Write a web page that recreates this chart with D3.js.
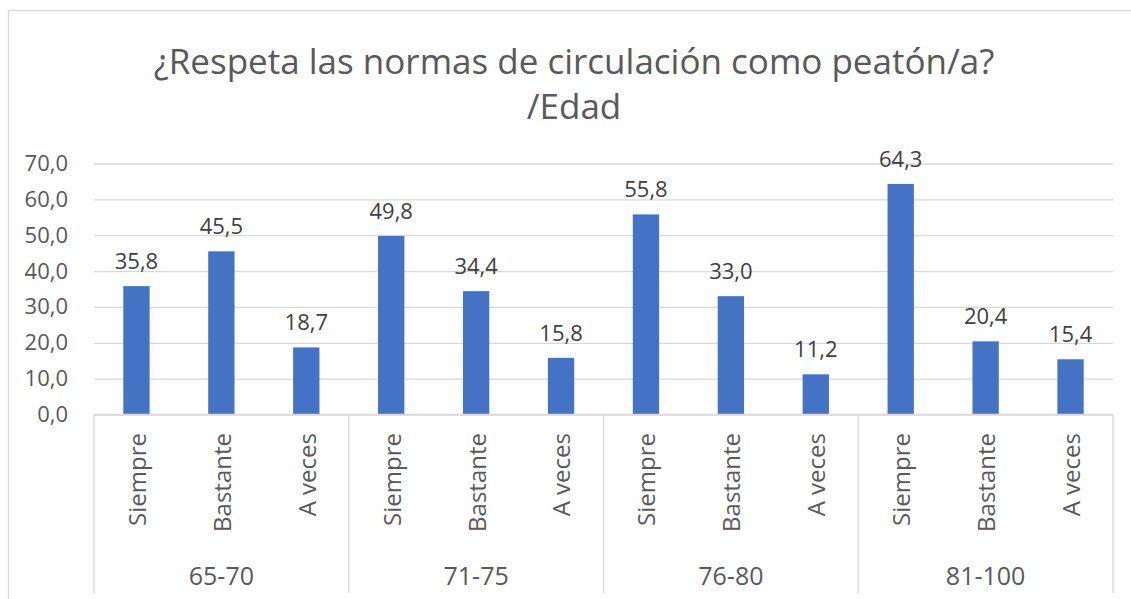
<!DOCTYPE html>
<html>
<head>
<meta charset="utf-8">
<script src="https://cdn.jsdelivr.net/npm/d3@7"></script>
<style>
  html, body { margin: 0; padding: 0; background: #fff; }
  svg { display: block; font-family: "Open Sans", "Noto Sans", sans-serif; }
</style>
</head>
<body>
<svg id="chart" width="1131" height="599"></svg>
<script>
// Age groups and the answer options shown inside each group
const ageGroups = ["65-70", "71-75", "76-80", "81-100"];
const answers = ["Siempre", "Bastante", "A veces"];

// Percentages per age group, in the order of `answers`
const values6570 = [35.8, 45.5, 18.7];
const values7175 = [49.8, 34.4, 15.8];
const values7680 = [55.8, 33.0, 11.2];
const values81100 = [64.3, 20.4, 15.4];

const yTicks = [0, 10, 20, 30, 40, 50, 60, 70];
const titleLines = ["¿Respeta las normas de circulación como peatón/a?", "/Edad"];

const seriesByGroup = [values6570, values7175, values7680, values81100];
const rows = [];
ageGroups.forEach((g, gi) => {
  answers.forEach((a, ai) => rows.push({ group: g, answer: a, value: seriesByGroup[gi][ai] }));
});

const fmt = v => d3.format(".1f")(v).replace(".", ",");

const svg = d3.select("#chart");
const gridColor = "#D9D9D9";
const textColor = "#595959";

// Chart frame
svg.append("rect")
  .attr("x", 8.5).attr("y", 10.5)
  .attr("width", 1160).attr("height", 620)
  .attr("fill", "#fff").attr("stroke", gridColor).attr("stroke-width", 1.3);

// Title
svg.append("g").selectAll("text")
  .data(titleLines)
  .join("text")
  .attr("x", 574)
  .attr("y", (d, i) => 74 + i * 45)
  .attr("text-anchor", "middle")
  .attr("fill", textColor)
  .attr("font-size", 35)
  .text(d => d);

const plotLeft = 94, plotRight = 1113;
const y = d3.scaleLinear().domain([0, 70]).range([414.5, 163.5]);

const xGroup = d3.scaleBand().domain(ageGroups).range([plotLeft, plotRight]).padding(0);
const xAnswer = d3.scaleBand().domain(answers).range([0, xGroup.bandwidth()])
  .paddingInner(0.69).paddingOuter(0.345);

// Horizontal gridlines
const yAxis = d3.axisLeft(y).tickValues(yTicks).tickFormat(fmt)
  .tickSize(-(plotRight - plotLeft)).tickPadding(26);
const yG = svg.append("g").attr("transform", `translate(${plotLeft},0)`).call(yAxis);
yG.select(".domain").remove();
yG.selectAll(".tick line").attr("stroke", gridColor).attr("stroke-width", 1.3);
yG.selectAll(".tick text")
  .attr("fill", textColor).attr("font-size", 22)
  .attr("font-family", "'Open Sans', sans-serif");

// Bars
const groups = svg.append("g").selectAll("g")
  .data(ageGroups)
  .join("g")
  .attr("transform", d => `translate(${xGroup(d)},0)`);

groups.selectAll("rect")
  .data(g => rows.filter(r => r.group === g))
  .join("rect")
  .attr("x", d => xAnswer(d.answer))
  .attr("width", xAnswer.bandwidth())
  .attr("y", d => y(d.value))
  .attr("height", d => y(0) - y(d.value))
  .attr("fill", "#4472C4");

// Value labels
groups.selectAll("text.value")
  .data(g => rows.filter(r => r.group === g))
  .join("text")
  .attr("class", "value")
  .attr("x", d => xAnswer(d.answer) + xAnswer.bandwidth() / 2)
  .attr("y", d => y(d.value) - 17)
  .attr("text-anchor", "middle")
  .attr("fill", "#404040")
  .attr("font-size", 22)
  .text(d => fmt(d.value));

// Category axis: baseline and group separators
const axisY = y(0);
svg.append("line")
  .attr("x1", plotLeft).attr("x2", plotRight)
  .attr("y1", axisY).attr("y2", axisY)
  .attr("stroke", gridColor).attr("stroke-width", 1.3);

const sepXs = ageGroups.map(g => xGroup(g)).concat([plotRight]);
svg.append("g").selectAll("line")
  .data(sepXs)
  .join("line")
  .attr("x1", d => d).attr("x2", d => d)
  .attr("y1", axisY).attr("y2", 593)
  .attr("stroke", gridColor).attr("stroke-width", 1.3);

// Answer labels (rotated)
groups.selectAll("text.answer")
  .data(g => rows.filter(r => r.group === g))
  .join("text")
  .attr("class", "answer")
  .attr("transform", d => `translate(${xAnswer(d.answer) + xAnswer.bandwidth() / 2 + 1},433) rotate(-90)`)
  .attr("text-anchor", "end")
  .attr("dy", "0.35em")
  .attr("fill", textColor)
  .attr("font-size", 24)
  .text(d => d.answer);

// Age group labels
svg.append("g").selectAll("text")
  .data(ageGroups)
  .join("text")
  .attr("x", d => xGroup(d) + xGroup.bandwidth() / 2)
  .attr("y", 585)
  .attr("text-anchor", "middle")
  .attr("fill", textColor)
  .attr("font-size", 25)
  .text(d => d);
</script>
</body>
</html>
